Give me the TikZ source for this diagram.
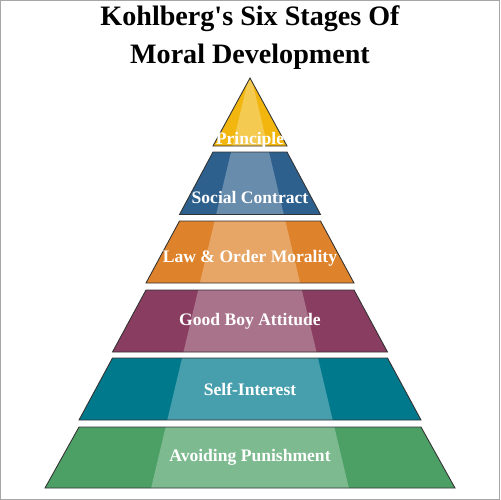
\documentclass[tikz,border=0pt]{standalone}
\usepackage{fontspec}
\setmainfont{Liberation Serif}
\definecolor{kgold}{RGB}{242,182,14}
\definecolor{kblue}{RGB}{46,96,141}
\definecolor{korange}{RGB}{222,131,43}
\definecolor{kplum}{RGB}{137,61,97}
\definecolor{kteal}{RGB}{0,121,140}
\definecolor{kgreen}{RGB}{76,160,102}

\begin{document}
\begin{tikzpicture}[x=0.02cm, y=-0.02cm,
    layer/.style={draw=black!80, line width=0.5pt, line join=miter,
      path picture={\fill[white, fill opacity=0.28] (bandtop) -- (bandright) -- (bandleft) -- cycle;}},
    stagelbl/.style={text=white, anchor=base, inner sep=0pt, font=\bfseries\fontsize{10}{12}\selectfont}]
    \useasboundingbox (0,0) rectangle (500,500);

    % Frame
    \draw[gray!70, line width=0.6pt] (0.5,0.5) rectangle (499.5,499.5);

    % Title
    \node[font=\bfseries\fontsize{16}{21.7}\selectfont, align=center, inner sep=0pt] (title) at (250,37.5) {Kohlberg\textquotesingle s Six Stages Of\\Moral Development};

    % Light band down the middle
    \coordinate (bandtop) at (250,72);
    \coordinate (bandleft) at (148.3,500);
    \coordinate (bandright) at (351.7,500);

    % Stages, top to bottom
    \draw[layer, fill=kgold] (250,78) -- (287,146) -- (213,146) -- cycle;
    \draw[layer, fill=kblue] (213,152) -- (287,152) -- (320.5,214.5) -- (179.5,214.5) -- cycle;
    \draw[layer, fill=korange] (179.5,221) -- (320.5,221) -- (354,283) -- (146,283) -- cycle;
    \draw[layer, fill=kplum] (146,290) -- (354,290) -- (387.5,352) -- (112.5,352) -- cycle;
    \draw[layer, fill=kteal] (112.5,358) -- (387.5,358) -- (421,420) -- (79,420) -- cycle;
    \draw[layer, fill=kgreen] (79,427) -- (421,427) -- (455,488) -- (45,488) -- cycle;

    % Stage names
    \node[stagelbl] (principle) at (250,144) {Principle};
    \node[stagelbl] (social) at (250,203.3) {Social Contract};
    \node[stagelbl] (law) at (250,262.7) {Law \& Order Morality};
    \node[stagelbl] (goodboy) at (250,325) {Good Boy Attitude};
    \node[stagelbl] (selfint) at (250,395) {Self-Interest};
    \node[stagelbl] (avoid) at (250,461.7) {Avoiding Punishment};
\end{tikzpicture}
\end{document}
